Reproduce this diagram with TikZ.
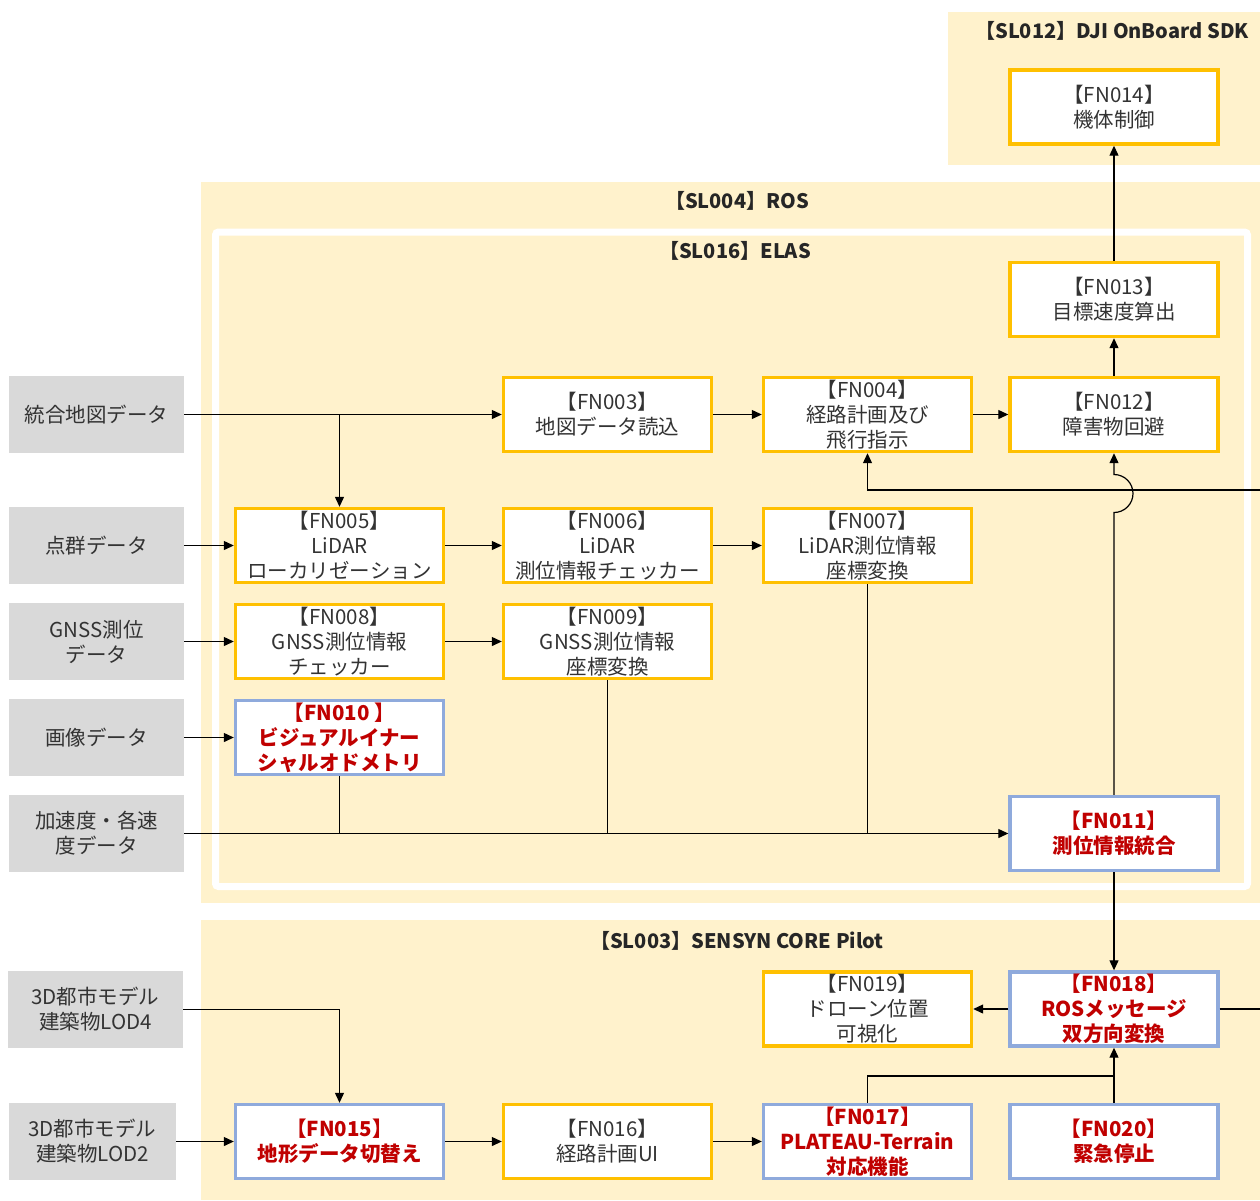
\documentclass[tikz,border=0pt]{standalone}
\usepackage{fontspec}
\setmainfont{Noto Sans CJK JP}
\usetikzlibrary{arrows.meta}
\definecolor{cream}{HTML}{FFF2CC}
\definecolor{ybord}{HTML}{FFC000}
\definecolor{bbord}{HTML}{8FAADC}
\definecolor{gbox}{HTML}{D9D9D9}
\definecolor{rtext}{HTML}{C00000}
\definecolor{dtext}{HTML}{333333}
\tikzset{
  txt/.style={font=\fontsize{20.5}{25}\selectfont, text=dtext, align=center, inner sep=0pt},
  inbox/.style={txt, fill=gbox, minimum width=175pt, minimum height=77pt},
  fnbox/.style={txt, fill=white, draw=ybord, line width=3.4pt, minimum width=208pt, minimum height=74pt},
  newbox/.style={fnbox, draw=bbord, text=rtext, font=\fontsize{20.5}{25}\selectfont\bfseries},
  title/.style={font=\fontsize{20}{24}\selectfont\bfseries, text=black!85, inner sep=0pt},
  conn/.style={line width=1.2pt, draw=black},
  arr/.style={conn, -{Triangle[length=10pt,width=9pt]}},
}
\begin{document}
\begin{tikzpicture}[x=1pt,y=-1pt]
\useasboundingbox (0,0) rectangle (1260,1200);

% grouping regions
\fill[cream] (948,12) rectangle (1260,165);
\node[title] (sl012) at (1112,31) {【SL012】DJI OnBoard SDK};
\fill[cream] (201,182) rectangle (1260,903);
\node[title] (sl004) at (737,201) {【SL004】ROS};
\draw[white, line width=7pt, fill=cream, rounded corners=3pt] (215.5,232) rectangle (1247.5,886.5);
\node[title] (sl016) at (735,251) {【SL016】ELAS};
\fill[cream] (201,920) rectangle (1260,1200);
\node[title] (sl003) at (737,941) {【SL003】SENSYN CORE Pilot};

% input data
\node[inbox] (g1) at (96.5,414.5) {統合地図データ};
\node[inbox] (g2) at (96.5,545.5) {点群データ};
\node[inbox] (g3) at (96.5,641.5) {GNSS測位\\データ};
\node[inbox] (g4) at (96.5,737.5) {画像データ};
\node[inbox] (g5) at (96.5,833.5) {加速度・各速\\度データ};
\node[inbox] (g6) at (95.5,1009.5) {3D都市モデル\\建築物LOD4};
\node[inbox, minimum width=167pt] (g7) at (92.5,1141.5) {3D都市モデル\\建築物LOD2};

% functions
\node[fnbox] (f14) at (1114,107) {【FN014】\\機体制御};
\node[fnbox] (f13) at (1114,299.5) {【FN013】\\目標速度算出};
\node[fnbox] (f3) at (607.5,414.5) {【FN003】\\地図データ読込};
\node[fnbox] (f4) at (867.5,414.5) {【FN004】\\経路計画及び\\飛行指示};
\node[fnbox] (f12) at (1114,414.5) {【FN012】\\障害物回避};
\node[fnbox] (f5) at (339.5,545.5) {【FN005】\\LiDAR\\ローカリゼーション};
\node[fnbox] (f6) at (607.5,545.5) {【FN006】\\LiDAR\\測位情報チェッカー};
\node[fnbox] (f7) at (867.5,545.5) {【FN007】\\LiDAR測位情報\\座標変換};
\node[fnbox] (f8) at (339.5,641.5) {【FN008】\\GNSS測位情報\\チェッカー};
\node[fnbox] (f9) at (607.5,641.5) {【FN009】\\GNSS測位情報\\座標変換};
\node[newbox] (f10) at (339.5,737.5) {【FN010 】\\ビジュアルイナー\\シャルオドメトリ};
\node[newbox] (f11) at (1114,833.5) {【FN011】\\測位情報統合};
\node[fnbox] (f19) at (867.5,1009) {【FN019】\\ドローン位置\\可視化};
\node[newbox] (f18) at (1114,1009) {【FN018】\\ROSメッセージ\\双方向変換};
\node[newbox] (f15) at (339.5,1141.5) {【FN015】\\地形データ切替え};
\node[fnbox] (f16) at (607.5,1141.5) {【FN016】\\経路計画UI};
\node[newbox] (f17) at (867.5,1141.5) {【FN017】\\PLATEAU-Terrain\\対応機能};
\node[newbox] (f20) at (1114,1141.5) {【FN020】\\緊急停止};

% map data flow
\draw[arr] (g1.east) -- (f3.west);
\coordinate (jmap) at (f5.north |- g1.east);
\draw[arr] (jmap) -- (f5.north);
\draw[arr] (f3.east) -- (f4.west);
\draw[arr] (f4.east) -- (f12.west);
\draw[arr] (f12.north) -- (f13.south);
\draw[arr] (f13.north) -- (f14.south);

% localisation chains
\draw[arr] (g2.east) -- (f5.west);
\draw[arr] (f5.east) -- (f6.west);
\draw[arr] (f6.east) -- (f7.west);
\draw[arr] (g3.east) -- (f8.west);
\draw[arr] (f8.east) -- (f9.west);
\draw[arr] (g4.east) -- (f10.west);

% fusion bus into FN011
\draw[arr] (g5.east) -- (f11.west);
\draw[conn] (f10.south) -- (f10.south |- g5.east);
\draw[conn] (f9.south) -- (f9.south |- g5.east);
\draw[conn] (f7.south) -- (f7.south |- g5.east);

% feedback from FN018 (leaves on the right) into FN004
\coordinate (rin) at (1260,490);
\draw[arr] (rin) -| (f4.south);
\coordinate (rout) at (1260,1009);
\draw[conn] (f18.east) -- (rout);

% FN011 up to FN012, hopping over the feedback line
\coordinate (hop) at (f11.north |- 0,512.5);
\draw[arr] (f11.north) -- (hop) arc[start angle=-90, end angle=90, radius=19pt] -- (f12.south);

% pilot side
\draw[arr] (f11.south) -- (f18.north);
\draw[arr] (f18.west) -- (f19.east);
\coordinate (jstop) at (f20.north |- 0,1076);
\draw[conn] (f17.north) |- (jstop);
\draw[arr] (f20.north) -- (f18.south);
\draw[arr] (g6.east) -| (f15.north);
\draw[arr] (g7.east) -- (f15.west);
\draw[arr] (f15.east) -- (f16.west);
\draw[arr] (f16.east) -- (f17.west);
\end{tikzpicture}
\end{document}
